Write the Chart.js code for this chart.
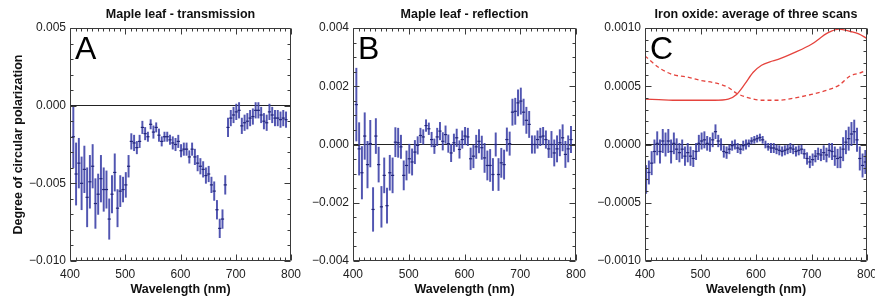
<!DOCTYPE html>
<html>
<head>
<meta charset="utf-8">
<title>Circular polarization spectra</title>
<script src="https://cdn.jsdelivr.net/npm/chart.js"></script>
<style>
  body { margin: 0; background: #fff; overflow: hidden; }
  #wrap { position: relative; width: 875px; height: 297px; overflow: hidden; }
  canvas { position: absolute; top: 0; }
</style>
</head>
<body>
<div id="wrap">
  <canvas id="chartA" width="320" height="297" style="left:0px"></canvas>
  <canvas id="chartB" width="310" height="297" style="left:290px"></canvas>
  <canvas id="chartC" width="305" height="297" style="left:585px"></canvas>
</div>
<script>
// wavelengths (nm) of the leaf scans and of the iron oxide scan
const wlLeaf = [406, 411, 416, 421, 426, 431, 436, 441, 446, 451, 456, 461, 466, 471, 476, 481, 486, 491, 496, 501,
  506, 511, 516, 521, 526, 531, 536, 541, 546, 551, 556, 561, 566, 571, 576, 581, 586, 591, 596, 601,
  606, 611, 616, 621, 626, 631, 636, 641, 646, 651, 656, 661, 666, 671, 676, 681, 686, 691, 696, 701,
  706, 711, 716, 721, 726, 731, 736, 741, 746, 751, 756, 761, 766, 771, 776, 781, 786, 791];
const wlIron = [402, 407, 412, 417, 422, 427, 432, 437, 442, 447, 452, 457, 462, 467, 472, 477, 482, 487, 492, 497,
  502, 507, 512, 517, 522, 527, 532, 537, 542, 547, 552, 557, 562, 567, 572, 577, 582, 587, 592, 597,
  602, 607, 612, 617, 622, 627, 632, 637, 642, 647, 652, 657, 662, 667, 672, 677, 682, 687, 692, 697,
  702, 707, 712, 717, 722, 727, 732, 737, 742, 747, 752, 757, 762, 767, 772, 777, 782, 787, 792, 797];

// A: maple leaf, transmission
const transValues = [-0.0020, -0.0044, -0.0037, -0.0050, -0.0041, -0.0059, -0.0049, -0.0039, -0.0063, -0.0057,
  -0.0047, -0.0054, -0.0054, -0.0073, -0.0057, -0.0043, -0.0066, -0.0055, -0.0054, -0.0051,
  -0.0039, -0.0023, -0.0024, -0.0027, -0.0023, -0.0014, -0.0018, -0.0020, -0.0012, -0.0017,
  -0.0014, -0.0019, -0.0023, -0.0020, -0.0020, -0.0022, -0.0024, -0.0025, -0.0023, -0.0029,
  -0.0028, -0.0028, -0.0033, -0.0028, -0.0033, -0.0037, -0.0039, -0.0041, -0.0045, -0.0044,
  -0.0051, -0.0055, -0.0067, -0.0079, -0.0073, -0.0051,
  -0.0014, -0.0008, -0.0006, -0.0004, -0.0003, -0.0013, -0.0011, -0.0010, -0.0008, -0.0007,
  -0.0003, -0.0003, -0.0006, -0.0010, -0.0011, -0.0004, -0.0006, -0.0008, -0.0008, -0.0009,
  -0.0008, -0.0009];
const transErrors = [0.0020, 0.0020, 0.0016, 0.0017, 0.0015, 0.0019, 0.0017, 0.0014, 0.0016, 0.0013,
  0.0015, 0.0014, 0.0012, 0.0013, 0.0012, 0.0012, 0.0012, 0.0010, 0.0008, 0.0008,
  0.0007, 0.0005, 0.0005, 0.0004, 0.0004, 0.0004, 0.0004, 0.0003, 0.0003, 0.0004,
  0.0003, 0.0004, 0.0003, 0.0003, 0.0003, 0.0003, 0.0004, 0.0004, 0.0004, 0.0004,
  0.0004, 0.0004, 0.0004, 0.0004, 0.0005, 0.0005, 0.0005, 0.0005, 0.0005, 0.0005,
  0.0005, 0.0006, 0.0006, 0.0006, 0.0006, 0.0006,
  0.0006, 0.0005, 0.0005, 0.0005, 0.0005, 0.0005, 0.0005, 0.0005, 0.0005, 0.0005,
  0.0005, 0.0005, 0.0005, 0.0005, 0.0005, 0.0005, 0.0005, 0.0005, 0.0005, 0.0005,
  0.0005, 0.0005];

// B: maple leaf, reflection
const reflValues = [0.00137, -0.00015, -0.00097, 0.00029, -0.00069, 0.00003, -0.00223, 0.00029, -0.00069, -0.00214,
  -0.00106, -0.00210, -0.00097, -0.00106, 0.00008, 0.00006, -0.00008, -0.00106, -0.00072, -0.00049,
  -0.00060, -0.00026, -0.00003, 0.00031, 0.00026, 0.00065, 0.00054, 0.00017, -0.00006, 0.00026,
  0.00046, 0.00011, 0.00034, 0.00003, -0.00029, 0.00006, 0.00023, -0.00017, 0.00017,
  0.00029, 0.00026, -0.00049, -0.00040, -0.00008, 0.00011, -0.00011, -0.00046, -0.00072, -0.00072,
  -0.00103, 0.00000, -0.00103, -0.00063, -0.00069, 0.00017, 0.00003,
  0.00111, 0.00114, 0.00143, 0.00149, 0.00111, 0.00083, 0.00069, 0.00000, 0.00000, 0.00017,
  0.00026, 0.00029, 0.00017, -0.00015, 0.00000, -0.00029, -0.00015, 0.00006, 0.00023, -0.00034,
  -0.00015, 0.00017];
const reflErrors = [0.00125, 0.0009, 0.0009, 0.0008, 0.0008, 0.0008, 0.00075, 0.0006, 0.0006, 0.0007,
  0.0006, 0.0006, 0.0006, 0.0006, 0.0005, 0.0005, 0.0004, 0.0005, 0.0005, 0.0005,
  0.00045, 0.0004, 0.0003, 0.00025, 0.00025, 0.0002, 0.0002, 0.00025, 0.00025, 0.0003,
  0.0003, 0.0003, 0.0003, 0.0003, 0.0003, 0.0003, 0.0003, 0.0003, 0.0003,
  0.0003, 0.0003, 0.00037, 0.0004, 0.0004, 0.0004, 0.0004, 0.0005, 0.0005, 0.00055,
  0.00055, 0.0004, 0.00055, 0.0005, 0.0005, 0.0004, 0.0004,
  0.00045, 0.00045, 0.00045, 0.00045, 0.00045, 0.00045, 0.00045, 0.0003, 0.0003, 0.0003,
  0.0003, 0.0003, 0.0003, 0.0003, 0.00045, 0.00045, 0.00045, 0.00045, 0.00045, 0.00045,
  0.00045, 0.00045];

// C: iron oxide, average of three scans
const ironValues = [-0.00030, -0.00024, -0.00016, -0.00006, 0.00001, -0.00006, 0.00003, 0.00000, 0.00003, -0.00006,
  0.00001, -0.00004, -0.00007, -0.00004, -0.00010, -0.00007, -0.00010, -0.00012, -0.00006, 0.00001,
  0.00003, 0.00004, 0.00001, 0.00000, 0.00004, 0.00011, 0.00003, 0.00000, -0.00006, -0.00007,
  -0.00004, -0.00001, 0.00000, -0.00003, -0.00004, -0.00001, 0.00000, 0.00001, 0.00003, 0.00004,
  0.00005, 0.00006, 0.00004, 0.00000, -0.00002, -0.00003, -0.00003, -0.00004, -0.00005, -0.00006,
  -0.00005, -0.00004, -0.00003, -0.00004, -0.00006, -0.00005, -0.00004, -0.00008, -0.00012, -0.00015,
  -0.00013, -0.00010, -0.00008, -0.00009, -0.00007, -0.00009, -0.00005, -0.00006, -0.00010, -0.00012,
  -0.00011, -0.00004, 0.00002, 0.00005, 0.00009, 0.00011, 0.00004, -0.00012, -0.00018, -0.00015];
const ironErrors = [0.00012, 0.0001, 0.0001, 0.0001, 0.0001, 0.0001, 0.0001, 0.0001, 0.0001, 0.0001,
  0.00009, 0.00009, 0.00008, 0.00008, 0.00008, 0.00008, 0.00008, 0.00007, 0.00007, 0.00007,
  0.00007, 0.00007, 0.00006, 0.00006, 0.00006, 0.00006, 0.00005, 0.00005, 0.00005, 0.00005,
  0.00004, 0.00004, 0.00004, 0.00004, 0.00004, 0.00004, 0.00004, 0.00003, 0.00003, 0.00003,
  0.00003, 0.00003, 0.00003, 0.00003, 0.00003, 0.00004, 0.00004, 0.00004, 0.00004, 0.00004,
  0.00004, 0.00004, 0.00004, 0.00004, 0.00004, 0.00004, 0.00004, 0.00004, 0.00005, 0.00005,
  0.00005, 0.00005, 0.00005, 0.00005, 0.00006, 0.00006, 0.00006, 0.00007, 0.00008, 0.00008,
  0.00009, 0.0001, 0.0001, 0.0001, 0.0001, 0.0001, 0.0001, 0.0001, 0.0001, 0.0001];

// red reference curves in panel C
const curveWl = [400, 425, 450, 475, 500, 525, 550, 565, 580, 595, 610, 625, 640, 670, 700, 730, 750, 770, 785, 800];
const curveSolid = [0.00039, 0.000385, 0.00038, 0.00038, 0.00038, 0.00038, 0.00039, 0.00043, 0.00052, 0.00062,
  0.00068, 0.00071, 0.00073, 0.00079, 0.00086, 0.00096, 0.00099, 0.00097, 0.00095, 0.00091];
const curveDashed = [0.00076, 0.00066, 0.00060, 0.00058, 0.00055, 0.00053, 0.00049, 0.00044, 0.00041, 0.00039,
  0.00038, 0.00038, 0.00038, 0.00040, 0.00043, 0.00047, 0.00051, 0.00059, 0.00061, 0.00064];

const FONT = '"Liberation Sans", Arial, Helvetica, sans-serif';
Chart.defaults.font.family = FONT;

const BAR_COLOR = 'rgba(62, 66, 168, 0.9)';
const MARK_COLOR = '#23267a';
const RED = '#e5433d';

function fmt(v, decimals) {
  if (Math.abs(v) < 1e-12) return (0).toFixed(decimals);
  return (v < 0 ? '\u2212' : '') + Math.abs(v).toFixed(decimals);
}

function errorBars(wl, vals, errs) {
  return wl.map((w, i) => ({ x: w, y: [vals[i] - errs[i], vals[i] + errs[i]] }));
}

function centers(wl, vals) {
  return wl.map((w, i) => ({ x: w, y: vals[i] }));
}

function seriesSets(wl, vals, errs) {
  return [
    { type: 'bar', data: errorBars(wl, vals, errs), backgroundColor: BAR_COLOR,
      barThickness: 1.3, grouped: false, order: 3 },
    { type: 'scatter', data: centers(wl, vals), pointStyle: 'line', pointRadius: 1.6,
      borderColor: MARK_COLOR, borderWidth: 1.2, order: 2 }
  ];
}

// box with inward ticks on all four sides and the panel letter
const panelFrame = {
  id: 'panelFrame',
  afterDraw(chart, args, opts) {
    const { ctx, chartArea: a } = chart;
    const xs = chart.scales.x, ys = chart.scales.y;
    const L = Math.round(a.left) + 0.5, R = Math.round(a.right) - 0.5;
    const T = Math.round(a.top) + 0.5, B = Math.round(a.bottom) - 0.5;
    ctx.save();
    ctx.strokeStyle = '#3a3a3a';
    ctx.lineWidth = 1;
    ctx.beginPath();
    ctx.rect(L, T, R - L, B - T);
    for (let w = 400; w <= 800; w += 10) {
      const px = Math.round(xs.getPixelForValue(w)) + 0.5;
      const len = w % 100 === 0 ? 6 : 3;
      ctx.moveTo(px, B); ctx.lineTo(px, B - len);
      ctx.moveTo(px, T); ctx.lineTo(px, T + len);
    }
    const k0 = Math.round(ys.min / opts.minor), k1 = Math.round(ys.max / opts.minor);
    for (let k = k0; k <= k1; k++) {
      const py = Math.round(ys.getPixelForValue(k * opts.minor)) + 0.5;
      const len = k % opts.perMajor === 0 ? 6 : 3;
      ctx.moveTo(L, py); ctx.lineTo(L + len, py);
      ctx.moveTo(R, py); ctx.lineTo(R - len, py);
    }
    ctx.stroke();
    ctx.fillStyle = '#000';
    ctx.font = '32px ' + FONT;
    ctx.textBaseline = 'alphabetic';
    ctx.fillText(opts.letter, a.left + 5, a.top + 31);
    ctx.restore();
  }
};

function makePanel(id, o) {
  return new Chart(document.getElementById(id), {
    type: 'bar',
    data: { datasets: o.datasets },
    options: {
      responsive: false,
      animation: false,
      devicePixelRatio: 1,
      events: [],
      layout: { padding: o.padding },
      plugins: {
        legend: { display: false },
        tooltip: { enabled: false },
        title: {
          display: true, text: o.title, fullSize: false, color: '#111',
          font: { size: 12.5, weight: 'bold' }, padding: { top: 7, bottom: 6 }
        },
        panelFrame: { letter: o.letter, minor: o.minor, perMajor: o.perMajor }
      },
      scales: {
        x: {
          type: 'linear', min: 400, max: 800, offset: false,
          grid: { display: false, drawTicks: false, offset: false },
          border: { display: false },
          ticks: { stepSize: 100, padding: 6, color: '#222', font: { size: 12 }, maxRotation: 0, autoSkip: false },
          title: { display: true, text: 'Wavelength (nm)', color: '#111',
                   font: { size: 12.5, weight: 'bold' }, padding: { top: 0, bottom: 0 } },
          afterFit: s => { s.height = 36; }
        },
        y: {
          min: o.yMin, max: o.yMax,
          grid: { drawTicks: false, color: c => Math.abs(c.tick.value) < 1e-12 ? '#222' : 'rgba(0,0,0,0)' },
          border: { display: false },
          ticks: { stepSize: o.yStep, padding: 4, color: '#222', font: { size: 12 },
                   callback: v => fmt(v, o.decimals) },
          title: { display: !!o.yTitle, text: o.yTitle || '', color: '#111',
                   font: { size: 12.5, weight: 'bold' }, padding: { top: 11, bottom: 0 } },
          afterFit: s => { s.width = o.yWidth; }
        }
      }
    },
    plugins: [panelFrame]
  });
}

makePanel('chartA', {
  title: 'Maple leaf - transmission', letter: 'A',
  datasets: seriesSets(wlLeaf, transValues, transErrors),
  yMin: -0.010, yMax: 0.005, yStep: 0.005, minor: 0.001, perMajor: 5, decimals: 3,
  yTitle: 'Degree of circular polarization', yWidth: 70,
  padding: { left: 0, right: 29, top: 0, bottom: 0 }
});

makePanel('chartB', {
  title: 'Maple leaf - reflection', letter: 'B',
  datasets: seriesSets(wlLeaf, reflValues, reflErrors),
  yMin: -0.004, yMax: 0.004, yStep: 0.002, minor: 0.0005, perMajor: 4, decimals: 3,
  yWidth: 63,
  padding: { left: 0, right: 24, top: 0, bottom: 0 }
});

makePanel('chartC', {
  title: 'Iron oxide: average of three scans', letter: 'C',
  datasets: seriesSets(wlIron, ironValues, ironErrors).concat([
    { type: 'line', data: centers(curveWl, curveSolid), borderColor: RED, borderWidth: 1.3,
      pointRadius: 0, cubicInterpolationMode: 'monotone', order: 1 },
    { type: 'line', data: centers(curveWl, curveDashed), borderColor: RED, borderWidth: 1.3,
      borderDash: [4, 3], pointRadius: 0, cubicInterpolationMode: 'monotone', order: 1 }
  ]),
  yMin: -0.001, yMax: 0.001, yStep: 0.0005, minor: 0.0001, perMajor: 5, decimals: 4,
  yWidth: 60,
  padding: { left: 0, right: 23, top: 0, bottom: 0 }
});
</script>
</body>
</html>
